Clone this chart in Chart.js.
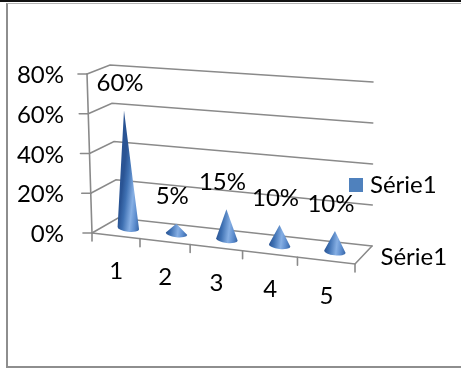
<!DOCTYPE html>
<html>
<head>
<meta charset="utf-8">
<script src="https://cdn.jsdelivr.net/npm/chart.js@4.4.1/dist/chart.umd.min.js"></script>
<style>
  html, body { margin: 0; padding: 0; background: #fff; }
  body { width: 461px; height: 369px; overflow: hidden; position: relative; }
  #topRule { position: absolute; left: 0; top: 0; width: 461px; height: 2px; background: #111; }
  #frame { position: absolute; left: 6px; top: 3px; width: 470px; height: 362px;
           border-left: 2px solid #8e8e8e; border-top: 1px solid #b4b4b4; border-bottom: 2px solid #8e8e8e; }
  canvas { position: absolute; left: 0; top: 0; }
</style>
</head>
<body>
<div id="topRule"></div>
<div id="frame"></div>
<canvas id="chart" width="461" height="369"></canvas>
<script>
// ---- data ----
const categories = ['1', '2', '3', '4', '5'];
const seriesName = 'Série1';
const values = [0.60, 0.05, 0.15, 0.10, 0.10];
const yTicks = [0, 0.2, 0.4, 0.6, 0.8];

const FONT = 'Lato';
const FSIZE = 24;
const BLUE = '#4F81BD';
const GRID = '#8a8a8a';
const pct = v => Math.round(v * 100) + '%';

// Perspective box built around the chart area: u runs along the categories,
// v up the value axis, d from the front edge to the back wall.
function projector(area) {
  const L = area.left, R = area.right, T = area.top, B = area.bottom;
  const C = {
    '000': [L + 4,  B],       '100': [R,      B + 31],
    '001': [L + 30, B - 15],  '101': [R + 17, B + 13],
    '010': [L - 1,  T],       '110': [R + 2,  T + 20],
    '011': [L + 22, T - 9],   '111': [R + 18, T + 8]
  };
  // foreshortening along the category direction
  const warp = u => u / (1 + 0.12 * (1 - u));
  return function (u, v, d) {
    const w = warp(u);
    let x = 0, y = 0;
    for (const a of [0, 1]) for (const b of [0, 1]) for (const c of [0, 1]) {
      const k = (a ? w : 1 - w) * (b ? v : 1 - v) * (c ? d : 1 - d);
      const p = C['' + a + b + c];
      x += k * p[0]; y += k * p[1];
    }
    return { x, y };
  };
}

function line(ctx, p, q) {
  ctx.beginPath(); ctx.moveTo(p.x, p.y); ctx.lineTo(q.x, q.y); ctx.stroke();
}

// fractional positions taken from the chart's own scales
function uOf(chart, px) { const a = chart.chartArea; return (px - a.left) / (a.right - a.left); }
function vOf(chart, py) { const a = chart.chartArea; return (a.bottom - py) / (a.bottom - a.top); }

const box3d = {
  id: 'box3d',
  beforeDatasetsDraw(chart) {
    const ctx = chart.ctx, P = projector(chart.chartArea);
    const ys = chart.scales.y, xs = chart.scales.x;
    ctx.save();
    ctx.strokeStyle = GRID; ctx.lineWidth = 1.6; ctx.lineCap = 'round';
    // walls: side and back gridlines
    ys.ticks.forEach(t => {
      const v = vOf(chart, ys.getPixelForValue(t.value));
      const f = P(0, v, 0), sb = P(0, v, 1), bb = P(1, v, 1);
      ctx.beginPath(); ctx.moveTo(f.x, f.y); ctx.lineTo(sb.x, sb.y); ctx.lineTo(bb.x, bb.y); ctx.stroke();
      line(ctx, f, { x: f.x - 9, y: f.y });          // value tick mark
    });
    // value axis
    line(ctx, P(0, 0, 0), P(0, 1, 0));
    // floor front and right edges
    ctx.beginPath();
    const a = P(0, 0, 0), b = P(1, 0, 0), c = P(1, 0, 1);
    ctx.moveTo(a.x, a.y); ctx.lineTo(b.x, b.y); ctx.lineTo(c.x, c.y); ctx.stroke();
    // category tick marks between the cones
    for (let i = 0; i <= categories.length; i++) {
      const px = i < categories.length
        ? xs.getPixelForValue(i) - (xs.getPixelForValue(1) - xs.getPixelForValue(0)) / 2
        : xs.right;
      const p = P(uOf(chart, px), 0, 0);
      line(ctx, p, { x: p.x, y: p.y + 8 });
    }
    ctx.restore();
  },
  afterDatasetsDraw(chart) {
    const ctx = chart.ctx, P = projector(chart.chartArea);
    const meta = chart.getDatasetMeta(0);
    ctx.save();
    meta.data.forEach((bar, i) => {
      const u = uOf(chart, bar.x);
      const v = vOf(chart, bar.y);
      const base = P(u, 0, 0.5), tip = P(u, v, 0.5);
      const nb = P(u + 0.01, 0, 0.5);
      const ang = Math.atan2(nb.y - base.y, nb.x - base.x);
      const rx = 10.8, ry = 3.6;
      const cs = Math.cos(ang), sn = Math.sin(ang);
      const lx = base.x - rx * cs, ly = base.y - rx * sn;
      const gx = base.x + rx * cs, gy = base.y + rx * sn;
      const g = ctx.createLinearGradient(lx, ly, gx, gy);
      g.addColorStop(0, '#2a5494');
      g.addColorStop(0.22, '#3f71b3');
      g.addColorStop(0.55, '#86afe4');
      g.addColorStop(0.78, '#5d8dce');
      g.addColorStop(1, '#3665a6');
      ctx.fillStyle = g;
      ctx.beginPath();
      ctx.moveTo(tip.x, tip.y);
      ctx.lineTo(lx, ly);
      ctx.ellipse(base.x, base.y, rx, ry, ang, Math.PI, 0, true);
      ctx.closePath();
      ctx.fill();
      // value label above the tip
      ctx.fillStyle = '#000';
      ctx.font = FSIZE + 'px ' + FONT;
      ctx.textAlign = 'center'; ctx.textBaseline = 'middle';
      ctx.fillText(pct(values[i]), tip.x - 4, tip.y - 27);
    });
    // category labels under the front edge
    const xs = chart.scales.x;
    ctx.font = FSIZE + 'px ' + FONT;
    ctx.textAlign = 'center'; ctx.textBaseline = 'middle';
    categories.forEach((c, i) => {
      const p = P(uOf(chart, xs.getPixelForValue(i)), 0, 0);
      ctx.fillText(c, p.x + 0.5, p.y + 35.5);
    });
    // series (depth) axis label
    const fr = P(1, 0, 0.5);
    ctx.textAlign = 'left';
    ctx.fillText(seriesName, fr.x + 17, fr.y + 2);
    // legend
    ctx.fillStyle = BLUE;
    ctx.fillRect(349, 178, 14, 14);
    ctx.fillStyle = '#000';
    ctx.fillText(seriesName, 370, 185.5);
    ctx.restore();
  }
};

new Chart(document.getElementById('chart'), {
  type: 'bar',
  data: {
    labels: categories,
    datasets: [{ label: seriesName, data: values, backgroundColor: 'rgba(0,0,0,0)', borderWidth: 0 }]
  },
  options: {
    responsive: false,
    devicePixelRatio: 1,
    animation: false,
    layout: { padding: { left: 0, top: 74, right: 106, bottom: 136 } },
    plugins: { legend: { display: false }, tooltip: { enabled: false } },
    scales: {
      x: { display: false },
      y: {
        min: 0, max: 0.8,
        afterBuildTicks: s => { s.ticks = yTicks.map(v => ({ value: v })); },
        afterFit: s => { s.width = 88; },
        grid: { display: false },
        border: { display: false },
        ticks: {
          padding: 16,
          labelOffset: 1.5,
          color: '#000',
          font: { family: FONT, size: FSIZE },
          callback: v => pct(v)
        }
      }
    }
  },
  plugins: [box3d]
});
</script>
</body>
</html>
